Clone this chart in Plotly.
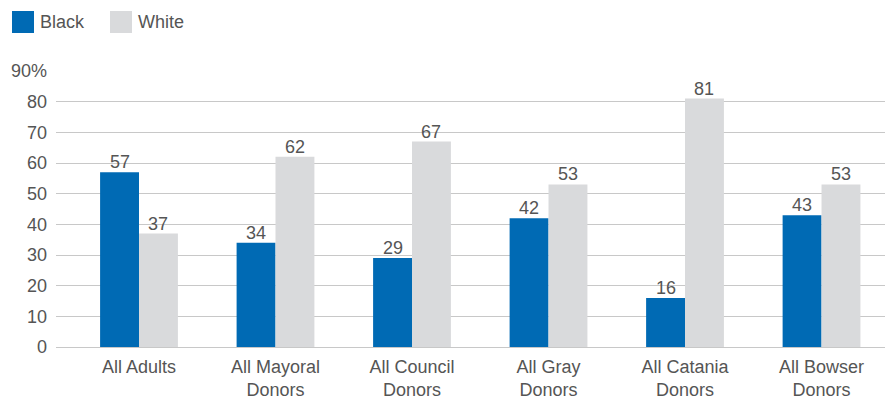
import plotly.graph_objects as go

categories = ["All Adults", "All Mayoral<br>Donors", "All Council<br>Donors",
              "All Gray<br>Donors", "All Catania<br>Donors", "All Bowser<br>Donors"]
black_vals = [57, 34, 29, 42, 16, 43]
white_vals = [37, 62, 67, 53, 81, 53]
y_ticks = [0, 10, 20, 30, 40, 50, 60, 70, 80, 90]
y_tick_text = ["0", "10", "20", "30", "40", "50", "60", "70", "80", "90%"]

BLUE = "#006AB4"
GRAY = "#D9DADC"
TEXT = "#555555"
FONT = "Liberation Sans, Arial, sans-serif"
FS = 18
BAR_W = 0.285

fig = go.Figure()
series = [("Black", black_vals, BLUE, -BAR_W / 2), ("White", white_vals, GRAY, BAR_W / 2)]
for name, vals, color, off in series:
    xs = list(range(len(categories)))
    fig.add_trace(go.Bar(
        name=name, x=xs, y=vals, marker_color=color, marker_line_width=0,
        width=BAR_W, offset=off - BAR_W / 2,
    ))
    # value labels sitting just above each bar
    for xi, v in zip(xs, vals):
        fig.add_annotation(x=xi + off, y=v, text=str(v), showarrow=False,
                           xanchor="center", yanchor="bottom", yshift=-2,
                           font=dict(size=FS, color=TEXT, family=FONT))

# legend drawn as swatches + labels across the top
legend_items = [("Black", BLUE, 12), ("White", GRAY, 110)]
for label, color, x0 in legend_items:
    fig.add_shape(type="rect", xref="paper", yref="paper",
                  x0=(x0 - 56) / 829, x1=(x0 + 22 - 56) / 829,
                  y0=(347 - 33) / 276, y1=(347 - 11) / 276,
                  fillcolor=color, line_width=0)
    fig.add_annotation(xref="paper", yref="paper", x=(x0 + 26 - 56) / 829,
                       y=(347 - 22) / 276, text=label, showarrow=False,
                       xanchor="left", yanchor="middle",
                       font=dict(size=FS, color=TEXT, family=FONT))

fig.update_layout(
    width=885, height=401, barmode="overlay",
    showlegend=False, plot_bgcolor="white", paper_bgcolor="white",
    margin=dict(l=56, r=0, t=71, b=54),
    font=dict(family=FONT, size=FS, color=TEXT),
    xaxis=dict(range=[-0.608, 5.465], tickmode="array",
               tickvals=list(range(len(categories))), ticktext=categories,
               showgrid=False, zeroline=False, showline=False, ticks="",
               tickfont=dict(size=FS, color=TEXT), ticklabelstandoff=7),
    yaxis=dict(range=[0, 90], tickmode="array", tickvals=y_ticks, ticktext=y_tick_text,
               showgrid=True, gridcolor="#C8C8C8", gridwidth=1, zeroline=True,
               zerolinecolor="#C8C8C8", zerolinewidth=1, showline=False,
               ticks="", ticklen=0, tickfont=dict(size=FS, color=TEXT),
               ticklabelstandoff=8),
)
fig.write_html("out.html")
